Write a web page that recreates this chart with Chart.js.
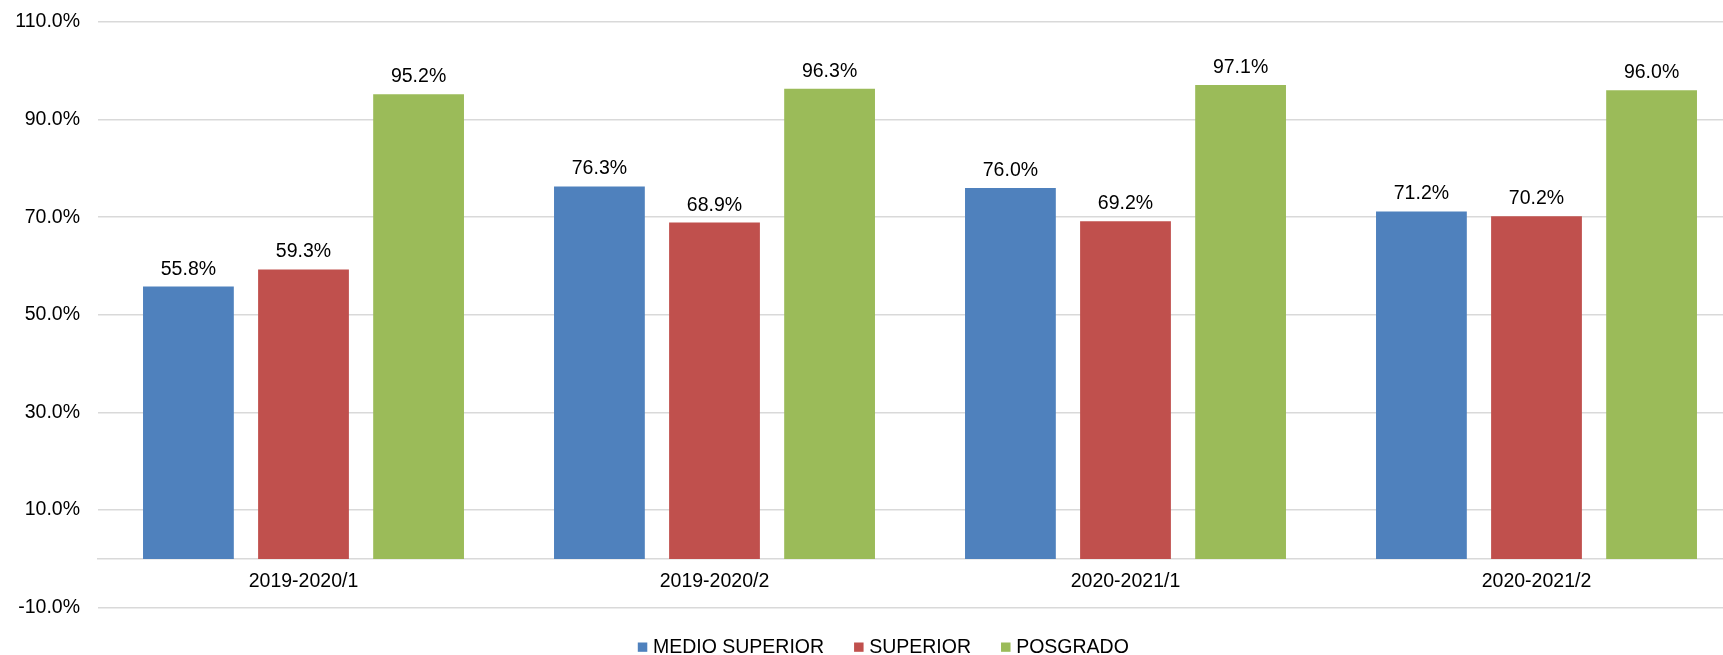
<!DOCTYPE html>
<html>
<head>
<meta charset="utf-8">
<script src="https://cdn.jsdelivr.net/npm/chart.js@4/dist/chart.umd.min.js"></script>
<style>
  html, body { margin: 0; padding: 0; background: #ffffff; overflow: hidden; }
  #wrap { width: 1742px; height: 655px; }
  canvas { display: block; }
</style>
</head>
<body>
<div id="wrap"><canvas id="c" width="1742" height="655"></canvas></div>
<script>
const categories = ['2019-2020/1', '2019-2020/2', '2020-2021/1', '2020-2021/2'];
const seriesNames = ['MEDIO SUPERIOR', 'SUPERIOR', 'POSGRADO'];
const medioSuperior = [55.8, 76.3, 76.0, 71.2];
const superior = [59.3, 68.9, 69.2, 70.2];
const posgrado = [95.2, 96.3, 97.1, 96.0];
const yTicks = [-10, 10, 30, 50, 70, 90, 110];
const colors = ['#4f81bd', '#c0504d', '#9bbb59'];

const FONT = '"Liberation Sans", Arial, sans-serif';
const fmt = v => v.toFixed(1) + '%';

const dataLabels = {
  id: 'dataLabels',
  afterDatasetsDraw(chart) {
    const ctx = chart.ctx;
    ctx.save();
    ctx.font = '19.5px ' + FONT;
    ctx.fillStyle = '#000000';
    ctx.textAlign = 'center';
    ctx.textBaseline = 'alphabetic';
    chart.data.datasets.forEach((ds, i) => {
      const meta = chart.getDatasetMeta(i);
      meta.data.forEach((el, j) => {
        ctx.fillText(fmt(ds.data[j]), el.x, el.y - 12);
      });
    });
    ctx.restore();
  }
};

const customLegend = {
  id: 'customLegend',
  afterDraw(chart) {
    const ctx = chart.ctx;
    ctx.save();
    ctx.font = '19.5px ' + FONT;
    const box = 9.5, gap = 5.6, itemGap = 30;
    const widths = seriesNames.map(n => ctx.measureText(n).width);
    const total = widths.reduce((a, b) => a + b, 0) + seriesNames.length * (box + gap) + (seriesNames.length - 1) * itemGap;
    let x = 883.3 - total / 2;
    const baseY = 652.7;
    ctx.textBaseline = 'alphabetic';
    ctx.textAlign = 'left';
    seriesNames.forEach((n, i) => {
      ctx.fillStyle = colors[i];
      ctx.fillRect(x, 642.5, box, 9.3);
      x += box + gap;
      ctx.fillStyle = '#000000';
      ctx.fillText(n, x, baseY);
      x += widths[i] + itemGap;
    });
    ctx.restore();
  }
};

new Chart(document.getElementById('c'), {
  type: 'bar',
  data: {
    labels: categories,
    datasets: [
      { label: seriesNames[0], data: medioSuperior, backgroundColor: colors[0] },
      { label: seriesNames[1], data: superior, backgroundColor: colors[1] },
      { label: seriesNames[2], data: posgrado, backgroundColor: colors[2] }
    ]
  },
  options: {
    responsive: false,
    devicePixelRatio: 1,
    animation: false,
    categoryPercentage: 0.84,
    barPercentage: 0.789,
    layout: { padding: { top: 22, bottom: 47.3, left: 0, right: 0 } },
    plugins: {
      legend: { display: false },
      tooltip: { enabled: false }
    },
    scales: {
      x: {
        position: { y: 0 },
        grid: { display: false, drawTicks: false },
        border: { display: true, color: '#d9d9d9', width: 1.5 },
        ticks: { color: '#000000', font: { family: FONT, size: 19.5 }, padding: 11, maxRotation: 0 }
      },
      y: {
        min: -10,
        max: 110,
        afterFit(scale) { scale.width = 98; scale.paddingTop = 0; scale.paddingBottom = 0; },
        afterBuildTicks(scale) { scale.ticks = yTicks.map(v => ({ value: v })); },
        grid: { color: '#d9d9d9', lineWidth: 1.5, drawTicks: false },
        border: { display: false },
        ticks: {
          color: '#000000',
          font: { family: FONT, size: 19.5 },
          padding: 18,
          callback: v => fmt(v)
        }
      }
    }
  },
  plugins: [dataLabels, customLegend]
});
</script>
</body>
</html>
